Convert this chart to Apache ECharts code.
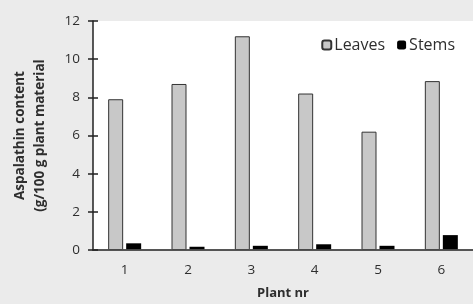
<!DOCTYPE html>
<html>
<head>
<meta charset="utf-8">
<script src="https://cdn.jsdelivr.net/npm/echarts@6/dist/echarts.min.js"></script>
<style>
  html, body { margin: 0; padding: 0; background: #ebebeb; }
  #chart { width: 473px; height: 304px; }
</style>
</head>
<body>
<div id="chart"></div>
<script>
// plant numbers
var plants = ['1', '2', '3', '4', '5', '6'];
// aspalathin content, g/100 g plant material
var leaves = [7.9, 8.7, 11.2, 8.2, 6.2, 8.85];
var stems = [0.35, 0.17, 0.22, 0.3, 0.22, 0.78];

var chart = echarts.init(document.getElementById('chart'));
var txt = '#2e2e2e';
var font = 'Open Sans';

var option = {
  backgroundColor: '#ebebeb',
  animation: false,
  textStyle: { fontFamily: font },
  grid: {
    left: 93, top: 21, right: 0, bottom: 54,
    outerBoundsMode: 'none',
    containLabel: false,
    show: true, backgroundColor: '#ffffff', borderWidth: 0, z: -1
  },
  legend: {
    right: 13, top: 32,
    itemWidth: 9, itemHeight: 9, itemGap: 12,
    textStyle: { color: txt, fontSize: 16, fontFamily: font, padding: [0, 0, 0, -2] },
    data: ['Leaves', 'Stems']
  },
  xAxis: [{
    type: 'category',
    data: plants,
    z: 10,
    name: 'Plant nr',
    nameLocation: 'middle',
    nameGap: 37,
    nameTextStyle: { color: txt, fontSize: 13, fontWeight: 'bold', fontFamily: font },
    axisLine: { show: true, lineStyle: { color: '#222', width: 1.5 } },
    axisTick: { show: false },
    axisLabel: { color: txt, fontSize: 13.5, margin: 13 }
  }, {
    type: 'category',
    data: plants,
    z: 10,
    position: 'top',
    axisLine: { show: true, lineStyle: { color: '#555', width: 1.5 } },
    axisTick: { show: false },
    axisLabel: { show: false }
  }],
  yAxis: [{
    type: 'value',
    z: 10,
    min: 0, max: 12, interval: 2,
    name: 'Aspalathin content\n(g/100 g plant material',
    nameLocation: 'middle',
    nameGap: 43,
    nameTextStyle: { color: txt, fontSize: 13.5, fontWeight: 'bold', lineHeight: 20, fontFamily: font },
    axisLine: { show: true, lineStyle: { color: '#222', width: 1.5 } },
    axisTick: { show: true, length: 5, lineStyle: { color: '#222', width: 1.5 } },
    axisLabel: { color: txt, fontSize: 13.5, margin: 13 },
    splitLine: { show: false }
  }, {
    type: 'value',
    z: 10,
    min: 0, max: 12, interval: 2,
    position: 'left',
    offset: 0,
    axisLine: { show: false },
    axisTick: { show: true, inside: true, length: 5, lineStyle: { color: '#222', width: 1.5 } },
    axisLabel: { show: false },
    splitLine: { show: false }
  }],
  series: [{
    name: 'Leaves',
    type: 'bar',
    data: leaves,
    barWidth: 15,
    barGap: '20%',
    itemStyle: { color: '#c8c8c8', borderColor: '#333', borderWidth: 1 }
  }, {
    name: 'Stems',
    type: 'bar',
    data: stems,
    barWidth: 15,
    itemStyle: { color: '#000000' }
  }]
};

chart.setOption(option);
</script>
</body>
</html>
